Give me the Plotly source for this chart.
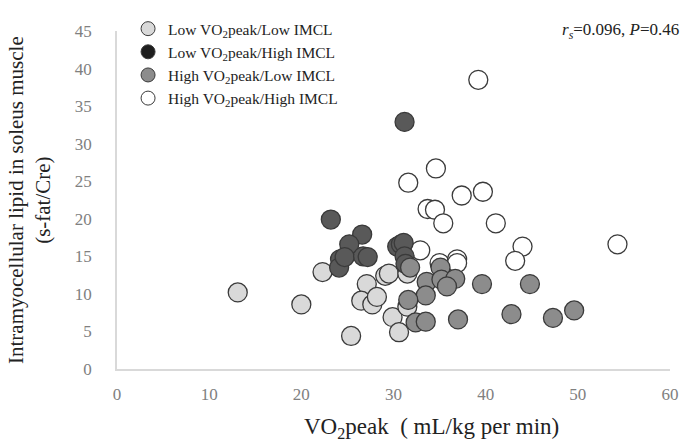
import plotly.graph_objects as go

# Low VO2peak / Low IMCL
low_low_x = [13.1, 20.0, 22.3, 27.1, 29.1, 29.5, 26.5, 27.7, 28.2, 29.9, 30.6, 25.4, 31.5, 31.5]
low_low_y = [10.2, 8.6, 12.9, 11.3, 12.4, 12.7, 9.1, 8.6, 9.6, 6.9, 4.9, 4.4, 12.7, 8.3]

# Low VO2peak / High IMCL
low_high_x = [23.2, 26.6, 25.2, 24.2, 24.1, 24.7, 26.7, 27.2, 30.4, 30.8, 31.1, 31.2, 31.3, 31.2]
low_high_y = [19.9, 17.9, 16.6, 14.6, 13.5, 14.9, 15.0, 14.9, 16.3, 16.6, 16.8, 15.0, 14.0, 32.9]

# High VO2peak / Low IMCL
high_low_x = [31.8, 33.6, 33.5, 31.6, 32.4, 33.5, 35.1, 35.2, 36.7, 35.8, 37.0, 39.6, 44.8, 42.8, 47.3, 49.6]
high_low_y = [13.5, 11.6, 9.8, 9.2, 6.2, 6.3, 13.5, 11.9, 12.0, 11.0, 6.6, 11.3, 11.3, 7.3, 6.8, 7.8]

# High VO2peak / High IMCL
high_high_x = [39.2, 34.6, 31.6, 37.4, 39.7, 33.7, 34.5, 35.4, 41.1, 32.9, 35.0, 36.9, 36.9, 44.0, 43.2, 54.3]
high_high_y = [38.5, 26.7, 24.8, 23.1, 23.6, 21.3, 21.2, 19.4, 19.4, 15.8, 14.1, 14.6, 14.1, 16.3, 14.4, 16.6]

group_names = ["Low VO<sub>2</sub>peak/Low IMCL", "Low VO<sub>2</sub>peak/High IMCL",
               "High VO<sub>2</sub>peak/Low IMCL", "High VO<sub>2</sub>peak/High IMCL"]
plot_colors = ["#d9d9d9", "#595959", "#8c8c8c", "#ffffff"]
legend_colors = ["#d9d9d9", "#1e1e1e", "#8c8c8c", "#ffffff"]

x_ticks = [0, 10, 20, 30, 40, 50, 60]
y_ticks = [0, 5, 10, 15, 20, 25, 30, 35, 40, 45]

FONT = "Liberation Serif, Times New Roman, serif"
edge = dict(color="#3a3a3a", width=1.3)

fig = go.Figure()
data = {
    0: (low_low_x, low_low_y),
    1: (low_high_x, low_high_y),
    2: (high_low_x, high_low_y),
    3: (high_high_x, high_high_y),
}
for i in [0, 3, 1, 2]:
    xs, ys = data[i]
    fig.add_trace(go.Scatter(x=xs, y=ys, mode="markers", showlegend=False, hoverinfo="skip",
                             marker=dict(size=19, color=plot_colors[i], line=edge)))
for i in range(4):
    fig.add_trace(go.Scatter(x=[None], y=[None], mode="markers", name=group_names[i],
                             marker=dict(size=14, color=legend_colors[i], line=dict(color="#3a3a3a", width=1))))

fig.update_layout(
    width=685, height=445,
    margin=dict(l=117, r=15, t=12, b=76),
    paper_bgcolor="white", plot_bgcolor="white",
    font=dict(family=FONT, color="#222222"),
    legend=dict(x=0.02, y=1.056, xanchor="left", yanchor="top",
                font=dict(size=15.5, family=FONT, color="#222222"),
                bgcolor="rgba(0,0,0,0)", tracegroupgap=0),
    xaxis=dict(range=[0, 60], tickvals=x_ticks, showgrid=False, zeroline=False,
               showline=True, linecolor="#d9d9d9", linewidth=1.5, automargin=False,
               tickfont=dict(size=17, family=FONT, color="#808080"),
               ticks="", ticklabelstandoff=9),
    yaxis=dict(range=[0, 45], tickvals=y_ticks, showgrid=False, zeroline=False,
               showline=True, linecolor="#d9d9d9", linewidth=1.5, automargin=False,
               tickfont=dict(size=17, family=FONT, color="#808080"),
               ticks="", ticklabelstandoff=20),
    annotations=[
        dict(text="VO<sub>2</sub>peak\u00a0\u00a0( mL/kg per min)", xref="paper", yref="paper",
             x=(431 - 117) / 553, y=(369 - 431) / 357, xanchor="center", yanchor="middle",
             showarrow=False, font=dict(size=23, family=FONT, color="#222222")),
        dict(text="Intramyocellular lipid in soleus muscle<br>(s-fat/Cre)", xref="paper", yref="paper",
             x=(29 - 117) / 553, y=0.5, xanchor="center", yanchor="middle", textangle=-90,
             showarrow=False, font=dict(size=21, family=FONT, color="#222222")),
        dict(text="<i>r<sub>s</sub></i>=0.096, <i>P</i>=0.46", xref="paper", yref="paper",
             x=(681 - 117) / 553, y=1.0, xanchor="right", yanchor="middle",
             showarrow=False, font=dict(size=17, family=FONT, color="#222222")),
    ],
)

fig.write_html("out.html", config={"displayModeBar": False},
               post_script="document.body.style.margin='0';")
